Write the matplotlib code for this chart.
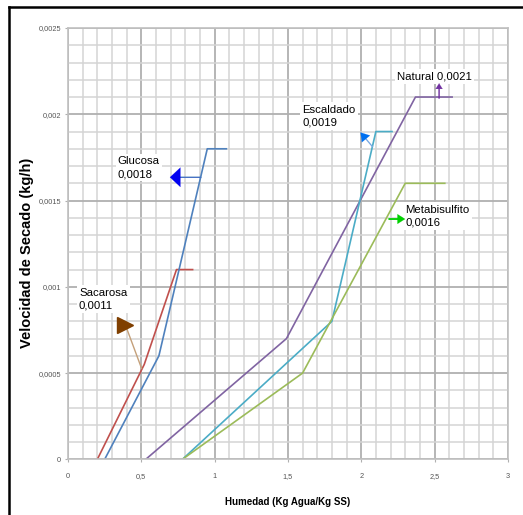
import matplotlib
matplotlib.use("Agg")
import matplotlib.pyplot as plt
from matplotlib.lines import Line2D

# series data (humedad vs velocidad de secado)
sacarosa_x = [0.20, 0.52, 0.74, 0.85]
sacarosa_y = [0.0, 0.00055, 0.0011, 0.0011]
glucosa_x = [0.25, 0.62, 0.95, 1.08]
glucosa_y = [0.0, 0.0006, 0.0018, 0.0018]
natural_x = [0.53, 1.49, 2.37, 2.62]
natural_y = [0.0, 0.0007, 0.0021, 0.0021]
escaldado_x = [0.78, 1.80, 2.10, 2.21]
escaldado_y = [0.0, 0.0008, 0.0019, 0.0019]
metab_x = [0.78, 1.60, 2.30, 2.57]
metab_y = [0.0, 0.0005, 0.0016, 0.0016]

xticks = [0, 0.5, 1, 1.5, 2, 2.5, 3]
xtick_labels = ['0', '0,5', '1', '1,5', '2', '2,5', '3']
yticks = [0, 0.0005, 0.001, 0.0015, 0.002, 0.0025]
ytick_labels = ['0', '0,0005', '0,001', '0,0015', '0,002', '0,0025']

plt.rcParams['font.family'] = ['Liberation Sans', 'DejaVu Sans']

fig = plt.figure(figsize=(5.23, 5.15), dpi=100)
ax = fig.add_axes([0.130, 0.108, 0.841, 0.8376])

ax.set_xlim(0, 3)
ax.set_ylim(0, 0.0025)

# grid
ax.set_xticks([i * 0.1 for i in range(31)], minor=True)
ax.set_yticks([i * 0.0001 for i in range(26)], minor=True)
ax.grid(which='minor', color='#d4d4d4', lw=1.1)
ax.grid(which='major', color='#b0b0b0', lw=1.3)
ax.set_axisbelow(True)
ax.tick_params(which='minor', length=0)
ax.tick_params(which='major', length=2, color='#b0b0b0', labelsize=5.3,
               labelcolor='#555555')
ax.tick_params(axis='x', pad=8)
ax.tick_params(axis='y', pad=3)
ax.set_xticks(xticks)
ax.set_xticklabels(xtick_labels)
ax.set_yticks(yticks)
ax.set_yticklabels(ytick_labels)
for s in ax.spines.values():
    s.set_color('#c0c0c0')
    s.set_linewidth(1.2)

ax.plot(sacarosa_x, sacarosa_y, color='#C0504D', lw=1.2)
ax.plot(glucosa_x, glucosa_y, color='#4F81BD', lw=1.2)
ax.plot(natural_x, natural_y, color='#8064A2', lw=1.2)
ax.plot(escaldado_x, escaldado_y, color='#4BACC6', lw=1.2)
ax.plot(metab_x, metab_y, color='#9BBB59', lw=1.2)

ax.set_xlabel('Humedad (Kg Agua/Kg SS)', fontsize=7, fontweight='bold')
ax.xaxis.set_label_coords(0.5, -0.088)
ax.set_ylabel('Velocidad de Secado (kg/h)', fontsize=10.5, fontweight='bold')
ax.yaxis.set_label_coords(-0.077, 0.478)

box = dict(boxstyle='square,pad=0.2', fc='white', ec='none')
tfont = dict(fontsize=8.2, color='#000000', va='center',
             ha='left', bbox=box, linespacing=1.35)

ax.text(0.34, 0.00169, 'Glucosa\n0,0018', **tfont)
ax.text(0.075, 0.00093, 'Sacarosa\n0,0011', **tfont)
ax.text(1.60, 0.00199, 'Escaldado\n0,0019', **tfont)
ax.text(2.243, 0.00222, 'Natural 0,0021', **tfont)
ax.text(2.302, 0.00141, 'Metabisulfito\n0,0016', **tfont)


def arrow(tail, tip, line_color, head_color, hl, hw, lw=1.0):
    ax.annotate('', xy=tip, xytext=tail,
                arrowprops=dict(arrowstyle='-', color=line_color, lw=lw,
                                shrinkA=0, shrinkB=hl * 0.8))
    ax.annotate('', xy=tip, xytext=tail,
                arrowprops=dict(arrowstyle='-|>,head_length=%g,head_width=%g' % (hl, hw),
                                color=head_color, lw=0.1, mutation_scale=1,
                                shrinkA=hl * 50, shrinkB=0))


arrow((0.907, 0.001635), (0.695, 0.001635), '#4F81BD', '#0000F0', 7.5, 7)
arrow((2.077, 0.001812), (1.995, 0.001895), '#8DB4E2', '#0070F0', 6, 3.8)
arrow((2.531, 0.002093), (2.531, 0.00218), '#7030A0', '#7030A0', 4, 2.5)
arrow((2.19, 0.001393), (2.30, 0.001393), '#00D000', '#00D000', 5.5, 3.5, lw=1.3)

# sacarosa: tan line with a brown right-pointing head
ax.plot([0.502, 0.40], [0.000527, 0.00076], color='#C4A07A', lw=1.0)
ax.plot([0.389], [0.000779], marker='>', markersize=12, color='#7F3F00', lw=0)

# frame of the original screenshot
fig.add_artist(Line2D([0.018, 0.018], [0, 0.987], color='black', lw=1.8,
                      transform=fig.transFigure))
fig.add_artist(Line2D([0.017, 1.0], [0.987, 0.987], color='black', lw=1.8,
                      transform=fig.transFigure))

fig.savefig('out.png', dpi=100)
